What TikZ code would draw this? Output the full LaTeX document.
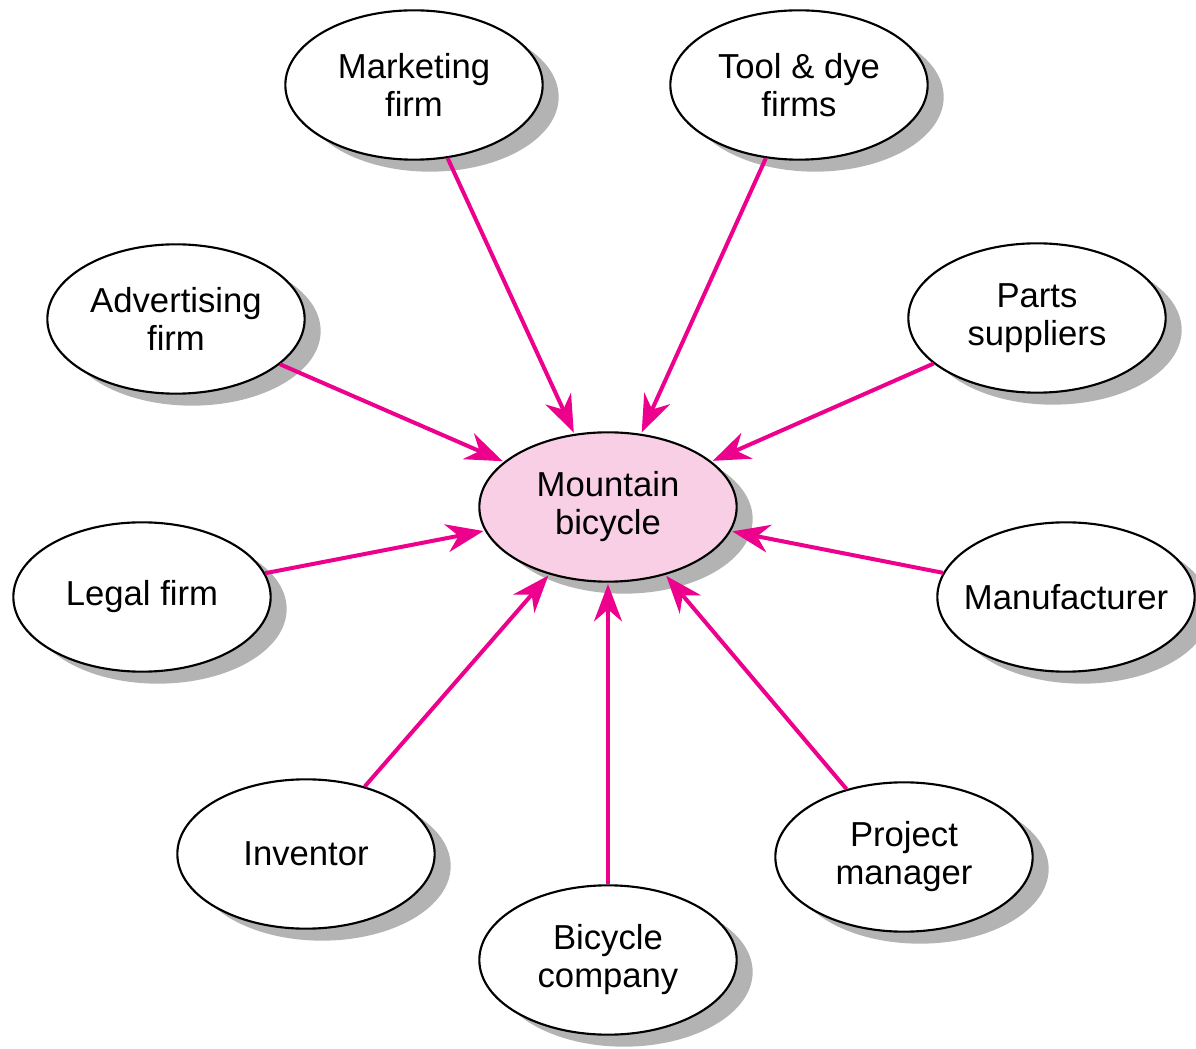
\documentclass[tikz,border=0pt]{standalone}
\usepackage{fontspec}
\setmainfont{Liberation Sans}
\usetikzlibrary{shapes,positioning,shadows,arrows.meta}
\definecolor{arrowpink}{RGB}{236,0,140}
\definecolor{hubpink}{RGB}{249,207,230}
\definecolor{shadowgrey}{RGB}{179,179,179}

\begin{document}
\begin{tikzpicture}[on grid,
  party/.style={draw, line width=1.6pt, ellipse, fill=white, minimum width=193pt, minimum height=112pt, inner xsep=-22pt, inner ysep=0pt, align=center, font=\fontsize{26}{28.5}\selectfont, drop shadow={shadow xshift=12pt, shadow yshift=-9pt, fill=shadowgrey, opacity=1}},
  hub/.style={party, fill=hubpink},
  feed/.style={-{Stealth[length=28pt, width=21pt, inset=9pt]}, color=arrowpink, line width=3pt, shorten >=1pt}]

\node[hub] (bike) at (0,0) {Mountain\\bicycle};
\useasboundingbox (-456pt,-406.5pt) rectangle (441pt,380.25pt);

\node[party, above left=316.5pt and 145.5pt of bike] (marketing) {Marketing\\firm};
\node[party, above right=316.5pt and 143.25pt of bike] (tooldye) {Tool \& dye\\firms};
\node[party, above left=141pt and 324pt of bike] (advertising) {Advertising\\firm};
\node[party, above right=141.75pt and 321.75pt of bike] (parts) {Parts\\suppliers};
\node[party, below left=67.5pt and 349.5pt of bike] (legal) {Legal firm};
\node[party, below right=67.5pt and 343.5pt of bike] (manufacturer) {Manufacturer};
\node[party, below left=260.25pt and 226.5pt of bike] (inventor) {Inventor};
\node[party, below right=262.5pt and 222pt of bike] (projman) {Project\\manager};
\node[party, below=339.75pt of bike] (company) {Bicycle\\company};

% everyone feeds into the bicycle
\draw[feed] (marketing) -- (bike);
\draw[feed] (tooldye) -- (bike);
\draw[feed] (advertising) -- (bike);
\draw[feed] (parts) -- (bike);
\draw[feed] (legal) -- (bike);
\draw[feed] (manufacturer) -- (bike);
\draw[feed] (inventor) -- (bike);
\draw[feed] (projman) -- (bike);
\draw[feed] (company) -- (bike);

\end{tikzpicture}
\end{document}
